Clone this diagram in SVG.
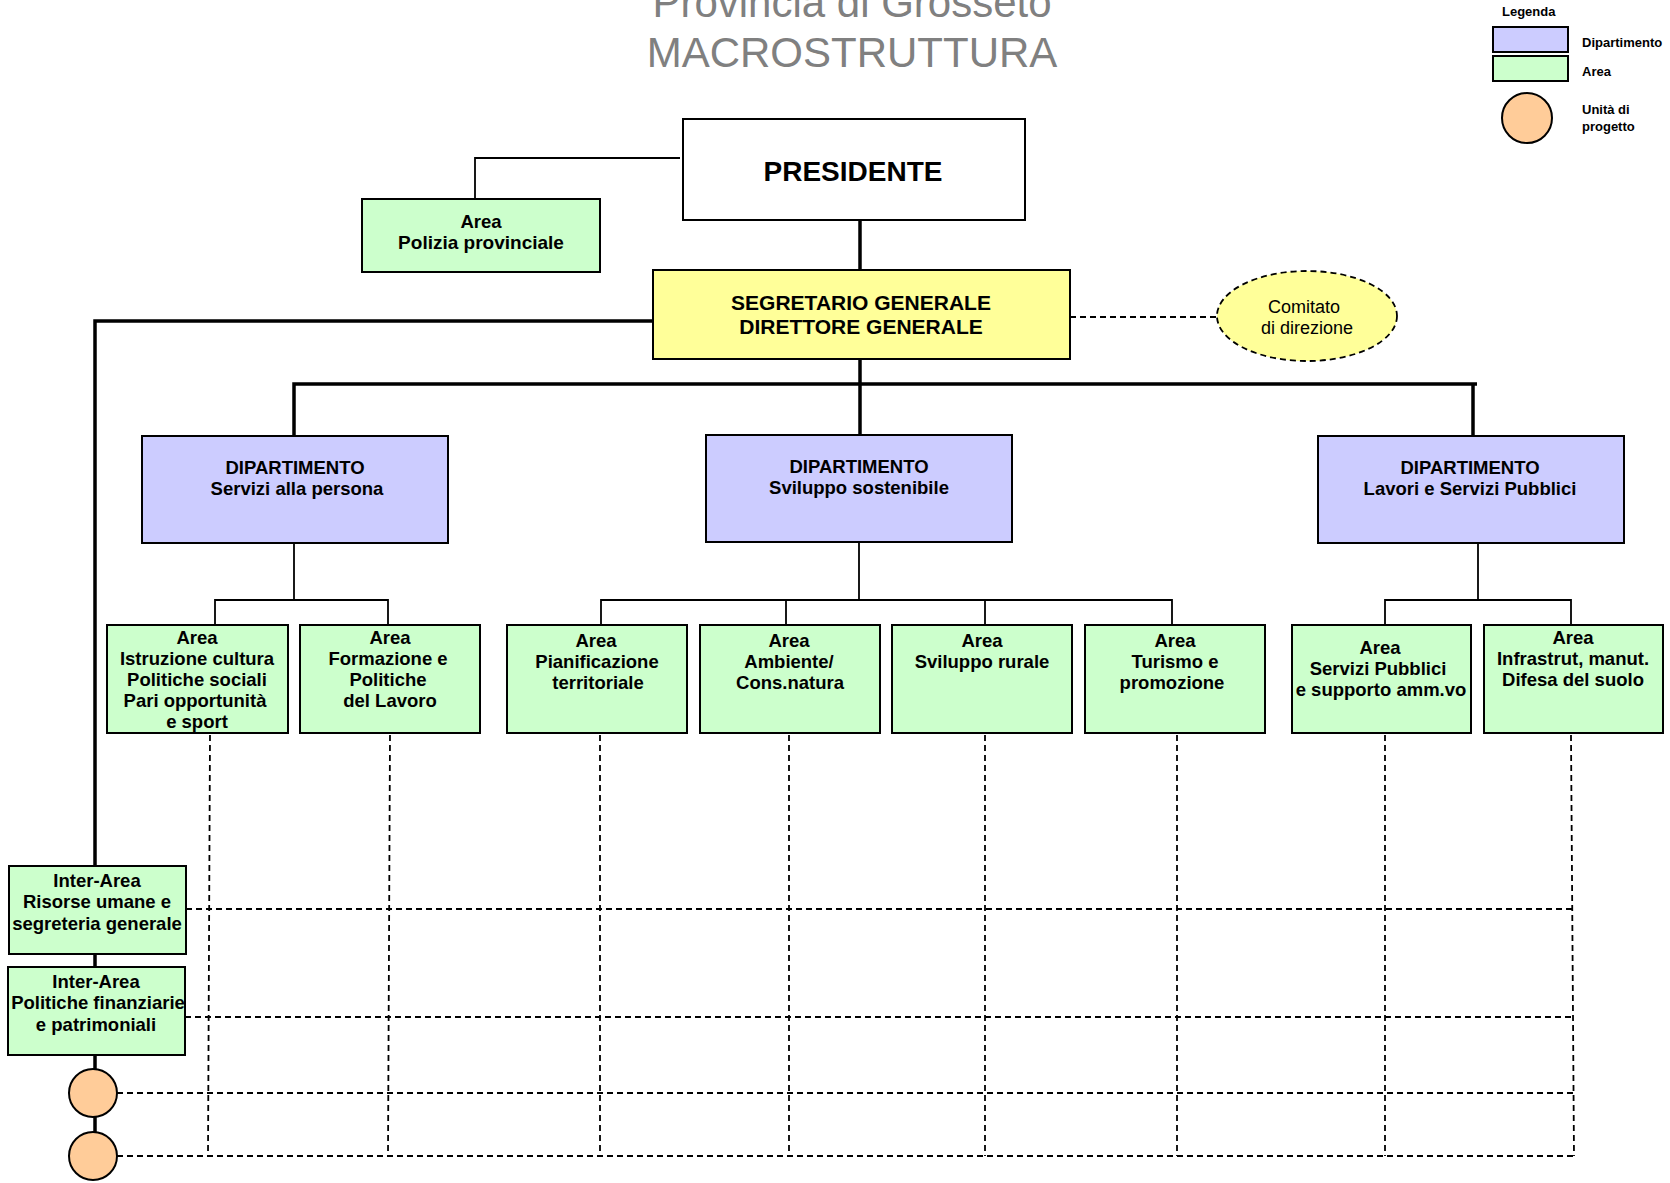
<svg xmlns="http://www.w3.org/2000/svg" width="1670" height="1183" viewBox="0 0 1670 1183">
<style>
text{font-family:"Liberation Sans",Arial,sans-serif;fill:#000}
.t{font-size:42px;fill:#808080;text-anchor:middle}
.b{font-weight:bold;text-anchor:middle;font-size:18.5px}
.lg{font-weight:bold;font-size:13px}
.box{stroke:#000;stroke-width:2}
.dep{fill:#CCCCFF}
.area{fill:#CCFFCC}
.yel{fill:#FFFF99}
.up{fill:#FFCC99;stroke:#000;stroke-width:2}
.thick{stroke:#000;stroke-width:3.5;fill:none}
.thin{stroke:#000;stroke-width:1.8;fill:none}
.dash{stroke:#000;stroke-width:1.8;fill:none;stroke-dasharray:6 4}
</style>
<rect width="1670" height="1183" fill="#fff"/>
<g id="title">
<text class="t" x="852" y="17">Provincia di Grosseto</text>
<text class="t" x="852" y="67">MACROSTRUTTURA</text>
</g>
<g id="legend">
<text class="lg" x="1502" y="16">Legenda</text>
<rect class="box dep" x="1493" y="27" width="75" height="25"/>
<rect class="box area" x="1493" y="56" width="75" height="25"/>
<circle class="up" cx="1527" cy="118" r="25"/>
<text class="lg" x="1582" y="47">Dipartimento</text>
<text class="lg" x="1582" y="76">Area</text>
<text class="lg" x="1582" y="114">Unità di</text>
<text class="lg" x="1582" y="131">progetto</text>
</g>
<g id="connectors">
<polyline class="thin" points="475,199 475,158 680,158"/>
<line class="thick" x1="860" y1="220" x2="860" y2="270"/>
<polyline class="thick" points="653,321 95,321 95,1132"/>
<line class="dash" x1="1070" y1="317" x2="1217" y2="317"/>
<line class="thick" x1="860" y1="359" x2="860" y2="435"/>
<polyline class="thick" points="294,436 294,384 1477,384"/>
<line class="thick" x1="1473" y1="384" x2="1473" y2="436"/>
<line class="thin" x1="294" y1="543" x2="294" y2="600"/>
<polyline class="thin" points="215,625 215,600 388,600 388,625"/>
<line class="thin" x1="859" y1="542" x2="859" y2="600"/>
<polyline class="thin" points="601,625 601,600 1172,600 1172,625"/>
<line class="thin" x1="786" y1="600" x2="786" y2="625"/>
<line class="thin" x1="985" y1="600" x2="985" y2="625"/>
<line class="thin" x1="1478" y1="543" x2="1478" y2="600"/>
<polyline class="thin" points="1385,625 1385,600 1571,600 1571,625"/>
<g id="matrix">
<line class="dash" x1="210" y1="735" x2="208" y2="1156"/>
<line class="dash" x1="390" y1="735" x2="388" y2="1156"/>
<line class="dash" x1="600" y1="735" x2="600" y2="1156"/>
<line class="dash" x1="789" y1="735" x2="789" y2="1156"/>
<line class="dash" x1="985" y1="735" x2="985" y2="1156"/>
<line class="dash" x1="1177" y1="735" x2="1177" y2="1156"/>
<line class="dash" x1="1385" y1="735" x2="1385" y2="1156"/>
<line class="dash" x1="1571" y1="735" x2="1574" y2="1156"/>
<line class="dash" x1="186" y1="909" x2="1574" y2="909"/>
<line class="dash" x1="185" y1="1017" x2="1574" y2="1017"/>
<line class="dash" x1="117" y1="1093" x2="1574" y2="1093"/>
<line class="dash" x1="117" y1="1156" x2="1574" y2="1156"/>
</g>
</g>
<g id="presidente">
<rect class="box" fill="#fff" x="683" y="119" width="342" height="101"/>
<text class="b" style="font-size:28px" x="853" y="181">PRESIDENTE</text>
</g>
<g id="polizia">
<rect class="box area" x="362" y="199" width="238" height="73"/>
<text class="b" x="481" y="228">Area</text>
<text class="b" style="font-size:19px" x="481" y="249">Polizia provinciale</text>
</g>
<g id="segretario">
<rect class="box yel" x="653" y="270" width="417" height="89"/>
<text class="b" style="font-size:21px" x="861" y="310">SEGRETARIO GENERALE</text>
<text class="b" style="font-size:21px" x="861" y="334">DIRETTORE GENERALE</text>
</g>
<g id="comitato">
<ellipse class="yel" cx="1307" cy="316" rx="90" ry="45" stroke="#000" stroke-width="1.8" stroke-dasharray="6 4"/>
<text x="1304" y="313" font-size="18" text-anchor="middle">Comitato</text>
<text x="1307" y="334" font-size="18" text-anchor="middle">di direzione</text>
</g>
<g id="dip-persona">
<rect class="box dep" x="142" y="436" width="306" height="107"/>
<text class="b" x="295" y="474">DIPARTIMENTO</text>
<text class="b" x="297" y="495">Servizi alla persona</text>
</g>
<g id="dip-sviluppo">
<rect class="box dep" x="706" y="435" width="306" height="107"/>
<text class="b" x="859" y="473">DIPARTIMENTO</text>
<text class="b" x="859" y="494">Sviluppo sostenibile</text>
</g>
<g id="dip-lavori">
<rect class="box dep" x="1318" y="436" width="306" height="107"/>
<text class="b" x="1470" y="474">DIPARTIMENTO</text>
<text class="b" x="1470" y="495">Lavori e Servizi Pubblici</text>
</g>
<g id="area-istruzione">
<rect class="box area" x="107" y="625" width="181" height="108"/>
<text class="b" x="197" y="644">Area</text>
<text class="b" x="197" y="665">Istruzione cultura</text>
<text class="b" x="197" y="686">Politiche sociali</text>
<text class="b" x="195" y="707">Pari opportunità</text>
<text class="b" x="197" y="728">e sport</text>
</g>
<g id="area-formazione">
<rect class="box area" x="300" y="625" width="180" height="108"/>
<text class="b" x="390" y="644">Area</text>
<text class="b" x="388" y="665">Formazione e</text>
<text class="b" x="388" y="686">Politiche</text>
<text class="b" x="390" y="707">del Lavoro</text>
</g>
<g id="area-pianificazione">
<rect class="box area" x="507" y="625" width="180" height="108"/>
<text class="b" x="596" y="647">Area</text>
<text class="b" x="597" y="668">Pianificazione</text>
<text class="b" x="598" y="689">territoriale</text>
</g>
<g id="area-ambiente">
<rect class="box area" x="700" y="625" width="180" height="108"/>
<text class="b" x="789" y="647">Area</text>
<text class="b" x="789" y="668">Ambiente/</text>
<text class="b" x="790" y="689">Cons.natura</text>
</g>
<g id="area-rurale">
<rect class="box area" x="892" y="625" width="180" height="108"/>
<text class="b" x="982" y="647">Area</text>
<text class="b" x="982" y="668">Sviluppo rurale</text>
</g>
<g id="area-turismo">
<rect class="box area" x="1085" y="625" width="180" height="108"/>
<text class="b" x="1175" y="647">Area</text>
<text class="b" x="1175" y="668">Turismo e</text>
<text class="b" x="1172" y="689">promozione</text>
</g>
<g id="area-servizi">
<rect class="box area" x="1292" y="625" width="179" height="108"/>
<text class="b" x="1380" y="654">Area</text>
<text class="b" x="1378" y="675">Servizi Pubblici</text>
<text class="b" x="1381" y="696">e supporto amm.vo</text>
</g>
<g id="area-infrastrutture">
<rect class="box area" x="1484" y="625" width="179" height="108"/>
<text class="b" x="1573" y="644">Area</text>
<text class="b" x="1573" y="665">Infrastrut, manut.</text>
<text class="b" x="1573" y="686">Difesa del suolo</text>
</g>
<g id="inter-risorse">
<rect class="box area" x="9" y="866" width="177" height="88"/>
<text class="b" x="97" y="887">Inter-Area</text>
<text class="b" x="97" y="908">Risorse umane e</text>
<text class="b" x="97" y="930">segreteria generale</text>
</g>
<g id="inter-finanze">
<rect class="box area" x="8" y="967" width="177" height="88"/>
<text class="b" x="96" y="988">Inter-Area</text>
<text class="b" x="98" y="1009">Politiche finanziarie</text>
<text class="b" x="96" y="1031">e patrimoniali</text>
</g>
<g id="unita-1"><circle class="up" cx="93" cy="1093" r="24"/></g>
<g id="unita-2"><circle class="up" cx="93" cy="1156" r="24"/></g>
</svg>
